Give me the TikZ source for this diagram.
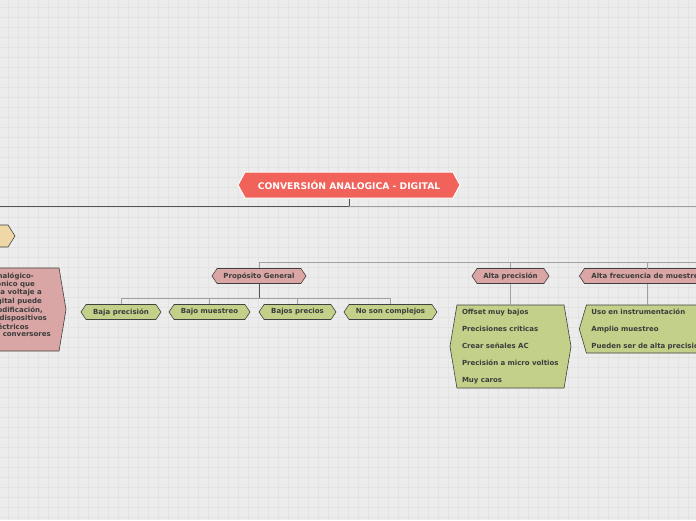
\documentclass[tikz,border=0pt]{standalone}
\usepackage{fontspec}
\setmainfont{DejaVu Sans}
\usetikzlibrary{shapes.symbols}
\definecolor{bgc}{RGB}{236,236,236}
\definecolor{gridc}{RGB}{227,227,227}
\definecolor{mainc}{RGB}{240,98,90}
\definecolor{pinkc}{RGB}{217,165,165}
\definecolor{greenc}{RGB}{195,208,137}
\definecolor{tanc}{RGB}{240,215,166}
\definecolor{bordc}{RGB}{64,64,64}
\definecolor{txtc}{RGB}{60,60,60}
\definecolor{darkline}{RGB}{85,85,85}
\definecolor{lightline}{RGB}{160,160,160}
\tikzset{
  hexa/.style={shape=signal, signal to=east and west, signal from=nowhere,
    draw=bordc, line width=0.6pt, text=txtc, inner sep=0pt,
    font=\bfseries\fontsize{7}{8}\selectfont},
  small/.style={hexa, minimum height=15pt, signal pointer angle=112},
  pinkbox/.style={small, fill=pinkc},
  greenbox/.style={small, fill=greenc},
  listbox/.style={hexa, fill=greenc, align=left, inner xsep=5pt,
    font=\bfseries\fontsize{7}{17}\selectfont},
  darkconn/.style={draw=darkline, line width=1pt},
  lightconn/.style={draw=lightline, line width=0.8pt},
  ptxt/.style={anchor=east, text=txtc, inner sep=0pt, font=\bfseries\fontsize{7}{8}\selectfont},
}
\begin{document}
\begin{tikzpicture}[x=1pt,y=-1pt]
\useasboundingbox (0,0) rectangle (696,520);
\clip (0,0) rectangle (696,520);
\fill[bgc] (0,0) rectangle (696,520);
\foreach \i in {0,...,69} {\draw[gridc, line width=0.8pt] (8+10*\i,0) -- (8+10*\i,520);}
\foreach \j in {0,...,52} {\draw[gridc, line width=0.8pt] (0,7+10*\j) -- (696,7+10*\j);}

% main
\node[hexa, fill=mainc, draw=white, line width=1pt, text=white, minimum width=222pt, minimum height=26pt,
  signal pointer angle=123, font=\bfseries\fontsize{9.2}{10}\selectfont] (main) at (349,185) {CONVERSIÓN ANALOGICA - DIGITAL};
\coordinate (mbus) at (349,206);
\coordinate (mleft) at (0,206);
\coordinate (mright) at (696,206);
\draw[darkconn] (main.south) -- (mbus);
\draw[darkconn] (mbus) -- (mleft);
\draw[lightconn] (mbus) -- (mright);

% left partial nodes
\node[hexa, fill=tanc, minimum width=90pt, minimum height=22pt, signal pointer angle=115] (tan) at (-30,236) {};
\node[hexa, fill=pinkc, minimum width=152pt, minimum height=83pt, signal pointer angle=161] (pink) at (-10,309.5) {};
\node[ptxt] (p1) at (34,276) {analógico-};
\node[ptxt] (p2) at (35,284.5) {electrónico que};
\node[ptxt] (p3) at (42,293) {aplica voltaje a};
\node[ptxt] (p4) at (42,301.5) {digital puede};
\node[ptxt] (p5) at (43,310) {codificación,};
\node[ptxt] (p6) at (47,318.5) {los dispositivos};
\node[ptxt] (p7) at (29,327) {eléctricos};
\node[ptxt] (p8) at (51,335.5) {y conversores};

% top bus
\coordinate (tbus) at (259,262);
\coordinate (tend) at (696,262);
\draw[lightconn] (tbus) -- (tend);

\node[pinkbox, minimum width=94pt] (pg) at (259,276) {Propósito General};
\node[pinkbox, minimum width=77pt] (ap) at (510.5,276) {Alta precisión};
\node[pinkbox, inner xsep=7pt, anchor=west] (af) at (579,276) {Alta frecuencia de muestreo};
\coordinate (afbus) at (647,262);
\coordinate (aftop) at (647,269);
\coordinate (afbot) at (647,284);
\draw[lightconn] (tbus) -- (pg.north);
\draw[lightconn] (ap.north |- tbus) -- (ap.north);
\draw[lightconn] (afbus) -- (aftop);

% Proposito general children
\node[greenbox, minimum width=80pt] (c1) at (121,312) {Baja precisión};
\node[greenbox, minimum width=81pt] (c2) at (209.5,312) {Bajo muestreo};
\node[greenbox, minimum width=77pt] (c3) at (297.5,312) {Bajos precios};
\node[greenbox, minimum width=93pt] (c4) at (390.5,312) {No son complejos};
\coordinate (pbus) at (259,298);
\draw[lightconn] (pbus) -| (c1.north);
\draw[lightconn] (pbus) -| (c4.north);
\draw[lightconn] (c2.north |- pbus) -- (c2.north);
\draw[lightconn] (c3.north |- pbus) -- (c3.north);
\draw[darkconn] (pg.south) -- (pbus);

% Alta precision list
\node[listbox, minimum width=121pt, minimum height=83pt, signal pointer angle=161, text width=97pt] (apl) at (510.5,346.5)
  {Offset muy bajos\\Precisiones criticas\\Crear señales AC\\Precisión a micro voltios\\Muy caros};
\draw[lightconn] (ap.south) -- (apl.north);

% Alta frecuencia list
\node[listbox, minimum width=150pt, minimum height=48pt, signal pointer angle=147, text width=126pt, anchor=west] (afl) at (579,329)
  {Uso en instrumentación\\Amplio muestreo\\Pueden ser de alta precisión};
\coordinate (afltop) at (647,305);
\draw[lightconn] (afbot) -- (afltop);
\end{tikzpicture}
\end{document}
